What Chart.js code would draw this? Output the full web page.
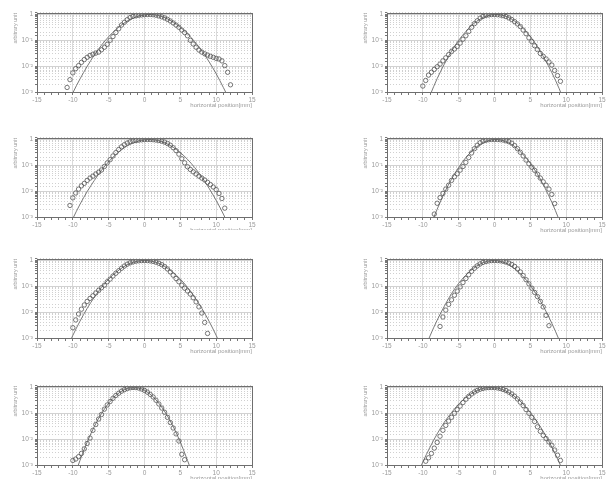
<!DOCTYPE html>
<html>
<head>
<meta charset="utf-8">
<script src="https://cdn.jsdelivr.net/npm/chart.js@4.4.0/dist/chart.umd.min.js"></script>
<style>
  html, body { margin: 0; padding: 0; background: #fff; overflow: hidden; width: 609px; height: 479px; }
  .panel { position: absolute; overflow: hidden; }
  canvas { display: block; }
</style>
</head>
<body>
<script>
// sample positions of the measured profiles [mm]
const POS = [
  -11.2, -10.8, -10.4, -10.0, -9.6, -9.2, -8.8, -8.4, -8.0, -7.6,
  -7.2, -6.8, -6.4, -6.0, -5.6, -5.2, -4.8, -4.4, -4.0, -3.6,
  -3.2, -2.8, -2.4, -2.0, -1.6, -1.2, -0.8, -0.4, 0.0, 0.4,
  0.8, 1.2, 1.6, 2.0, 2.4, 2.8, 3.2, 3.6, 4.0, 4.4,
  4.8, 5.2, 5.6, 6.0, 6.4, 6.8, 7.2, 7.6, 8.0, 8.4,
  8.8, 9.2, 9.6, 10.0, 10.4, 10.8, 11.2, 11.6, 12.0
];
// positions where the fitted curve was read [mm]
const FIT_POS = [-12, -11, -10, -9, -8, -7, -6, -5, -4, -3, -2, -1, 0,
  1, 2, 3, 4, 5, 6, 7, 8, 9, 10, 11, 12, 13];

const X_LABELS = [-15, -10, -5, 0, 5, 10, 15];
const Y_DECADES = [1, 0.1, 0.01, 0.001];
const Y_LABELS = ['1', '10\u207B\u00B9', '10\u207B\u00B2', '10\u207B\u00B3'];
const X_TITLE = 'horizontal position[mm]';
const Y_TITLE = 'arbitrary unit';

// measured profiles (null = no point)
const prof1 = [
  null, 0.0015, 0.003, 0.0055, 0.008, 0.0105, 0.014, 0.018, 0.022, 0.026,
  0.029, 0.032, 0.035, 0.043, 0.054, 0.07, 0.1, 0.14, 0.2, 0.28,
  0.39, 0.5, 0.63, 0.76, 0.84, 0.89, 0.93, 0.96, 0.98, 1.0,
  1.0, 0.98, 0.94, 0.88, 0.81, 0.74, 0.65, 0.56, 0.47, 0.39,
  0.32, 0.25, 0.2, 0.15, 0.1, 0.072, 0.054, 0.042, 0.035, 0.03,
  0.027, 0.024, 0.022, 0.02, 0.019, 0.016, 0.0105, 0.0058, 0.0019
];
const prof2 = [
  null, null, null, 0.0017, 0.0028, 0.0045, 0.0058, 0.0075, 0.0095, 0.012,
  0.016, 0.021, 0.028, 0.037, 0.046, 0.058, 0.078, 0.11, 0.15, 0.22,
  0.32, 0.44, 0.57, 0.72, 0.84, 0.92, 0.96, 0.99, 1.0, 0.98,
  0.95, 0.9, 0.83, 0.74, 0.64, 0.53, 0.43, 0.34, 0.25, 0.18,
  0.125, 0.09, 0.062, 0.044, 0.031, 0.024, 0.019, 0.0145, 0.011, 0.0068,
  0.0043, 0.0026, null, null, null, null, null, null, null
];
const prof3 = [
  null, null, 0.0028, 0.0055, 0.0085, 0.012, 0.016, 0.02, 0.026, 0.032,
  0.038, 0.046, 0.054, 0.066, 0.09, 0.123, 0.165, 0.23, 0.31, 0.41,
  0.52, 0.63, 0.73, 0.81, 0.87, 0.91, 0.94, 0.97, 0.99, 1.0,
  1.0, 0.98, 0.95, 0.91, 0.86, 0.79, 0.7, 0.6, 0.48, 0.37,
  0.27, 0.18, 0.125, 0.088, 0.069, 0.056, 0.046, 0.038, 0.032, 0.027,
  0.022, 0.018, 0.0145, 0.0115, 0.0082, 0.0052, 0.0022, null, null
];
const prof4 = [
  null, null, null, null, null, null, null, 0.0013, 0.0034, 0.0056,
  0.0082, 0.012, 0.017, 0.026, 0.036, 0.047, 0.065, 0.09, 0.13, 0.2,
  0.3, 0.44, 0.6, 0.75, 0.86, 0.93, 0.98, 1.0, 1.0, 1.0,
  0.98, 0.95, 0.89, 0.82, 0.72, 0.58, 0.44, 0.32, 0.23, 0.16,
  0.115, 0.085, 0.064, 0.045, 0.032, 0.023, 0.017, 0.012, 0.0075, 0.0033,
  null, null, null, null, null, null, null, null, null
];
const prof5 = [
  null, null, null, 0.0025, 0.005, 0.0085, 0.013, 0.019, 0.026, 0.034,
  0.043, 0.055, 0.07, 0.088, 0.11, 0.15, 0.19, 0.25, 0.32, 0.4,
  0.5, 0.61, 0.72, 0.81, 0.88, 0.94, 0.97, 0.99, 1.0, 0.99,
  0.96, 0.92, 0.86, 0.78, 0.69, 0.58, 0.47, 0.36, 0.27, 0.2,
  0.15, 0.11, 0.085, 0.066, 0.05, 0.036, 0.025, 0.016, 0.0092, 0.004,
  0.0015, null, null, null, null, null, null, null, null
];
const prof6 = [
  null, null, null, null, null, null, null, null, null, 0.0028,
  0.0065, 0.012, 0.02, 0.03, 0.045, 0.065, 0.095, 0.14, 0.2, 0.28,
  0.38, 0.5, 0.62, 0.74, 0.84, 0.91, 0.96, 0.99, 1.0, 0.99,
  0.97, 0.93, 0.87, 0.79, 0.7, 0.59, 0.47, 0.36, 0.26, 0.18,
  0.125, 0.085, 0.058, 0.04, 0.026, 0.016, 0.0075, 0.003, null, null,
  null, null, null, null, null, null, null, null, null
];
const prof7 = [
  null, null, null, 0.0015, 0.0017, 0.0021, 0.0028, 0.0042, 0.0068, 0.011,
  0.022, 0.037, 0.06, 0.09, 0.145, 0.21, 0.285, 0.38, 0.49, 0.6,
  0.72, 0.82, 0.91, 0.97, 1.0, 0.99, 0.95, 0.87, 0.77, 0.66,
  0.54, 0.43, 0.32, 0.23, 0.16, 0.11, 0.07, 0.044, 0.027, 0.016,
  0.0085, 0.0026, 0.0016, null, null, null, null, null, null, null,
  null, null, null, null, null, null, null, null, null
];
const prof8 = [
  null, null, null, null, 0.0014, 0.0019, 0.0028, 0.0045, 0.0075, 0.013,
  0.022, 0.034, 0.05, 0.07, 0.1, 0.14, 0.19, 0.26, 0.35, 0.45,
  0.56, 0.67, 0.77, 0.86, 0.92, 0.97, 0.99, 1.0, 0.99, 0.96,
  0.91, 0.84, 0.76, 0.66, 0.56, 0.46, 0.36, 0.27, 0.2, 0.14,
  0.1, 0.07, 0.048, 0.03, 0.02, 0.014, 0.0105, 0.0078, 0.0058, 0.0038,
  0.0024, 0.0015, null, null, null, null, null, null, null
];

// fitted curves, read at FIT_POS
const fit1 = [5.4e-5, 2.4e-4, 9.3e-4, 3.2e-3, 9.8e-3, 0.027, 0.065, 0.138, 0.26, 0.43, 0.64, 0.84, 0.97,
  0.995, 0.9, 0.72, 0.51, 0.32, 0.18, 0.089, 0.039, 0.015, 5.1e-3, 1.5e-3, 4.1e-4, 9.8e-5];
const fit2 = [null, 2.3e-5, 1.4e-4, 7.4e-4, 3.3e-3, 0.012, 0.038, 0.1, 0.22, 0.42, 0.66, 0.885, 1.0,
  0.947, 0.76, 0.51, 0.29, 0.14, 0.057, 0.019, 5.6e-3, 1.4e-3, 2.8e-4, 4.8e-5, null, null];
const fit3 = [4.8e-5, 2.2e-4, 8.7e-4, 3.1e-3, 9.6e-3, 0.026, 0.064, 0.138, 0.26, 0.44, 0.65, 0.845, 0.975,
  0.99, 0.89, 0.71, 0.5, 0.31, 0.17, 0.082, 0.035, 0.013, 4.4e-3, 1.3e-3, 3.3e-4, 7.6e-5];
const fit4 = [null, 1e-5, 6.9e-5, 4.1e-4, 2.0e-3, 8.5e-3, 0.029, 0.083, 0.2, 0.39, 0.64, 0.875, 0.998,
  0.94, 0.74, 0.49, 0.26, 0.12, 0.045, 0.014, 3.7e-3, 8e-4, 1.4e-4, 2.2e-5, null, null];
const fit5 = [6.6e-5, 3.1e-4, 1.26e-3, 4.5e-3, 0.014, 0.038, 0.091, 0.19, 0.34, 0.55, 0.77, 0.935, 1.0,
  0.935, 0.77, 0.55, 0.34, 0.19, 0.091, 0.038, 0.014, 4.5e-3, 1.26e-3, 3.1e-4, 6.6e-5, 1.3e-5];
const fit6 = [null, 4e-5, 2.4e-4, 1.2e-3, 4.9e-3, 0.017, 0.052, 0.13, 0.27, 0.49, 0.73, 0.93, 1.0,
  0.9, 0.69, 0.44, 0.24, 0.11, 0.042, 0.0136, 3.7e-3, 8.7e-4, 1.7e-4, 2.8e-5, null, null];
const fit7 = [null, 3.1e-5, 2.5e-4, 1.5e-3, 7.7e-3, 0.031, 0.098, 0.245, 0.49, 0.77, 0.97, 0.97, 0.77,
  0.49, 0.245, 0.098, 0.031, 7.7e-3, 1.5e-3, 2.5e-4, 3.1e-5, null, null, null, null, null];
const fit8 = [5.9e-5, 3e-4, 1.3e-3, 4.9e-3, 0.016, 0.045, 0.107, 0.225, 0.41, 0.63, 0.85, 0.98, 0.98,
  0.85, 0.63, 0.41, 0.225, 0.107, 0.045, 0.016, 4.9e-3, 1.3e-3, 3e-4, 5.9e-5, 1e-5, null];

const PROFILES = [prof1, prof2, prof3, prof4, prof5, prof6, prof7, prof8];
const FITS = [fit1, fit2, fit3, fit4, fit5, fit6, fit7, fit8];

// page layout
const COL_LEFT = [0, 350];          // canvas left for each column
const ROW_TOP = [11, 136, 257, 384]; // top of the plot box in each row
const CV_W = 258, CV_H = 111;
const CLIP_H = [null, null, 98, null, null, null, null, null]; // panel 3 is cut off in the original

const FONT = "'Liberation Sans', Arial, sans-serif";
const GREY_TXT = '#9a9a9a';

function pts(xs, ys) {
  const out = [];
  xs.forEach((x, i) => { if (ys[i] !== null) out.push({ x: x, y: ys[i] }); });
  return out;
}

// decade lines and the box round the plot
const frame = {
  id: 'frame',
  beforeDatasetsDraw(chart) {
    const { ctx, chartArea: a, scales: { y } } = chart;
    ctx.save();
    ctx.strokeStyle = '#d2d2d2';
    ctx.lineWidth = 1;
    Y_DECADES.forEach(v => {
      const py = Math.round(y.getPixelForValue(v)) + 0.5;
      ctx.beginPath(); ctx.moveTo(a.left, py); ctx.lineTo(a.right, py); ctx.stroke();
    });
    ctx.restore();
  },
  afterDraw(chart) {
    const { ctx, chartArea: a } = chart;
    ctx.save();
    ctx.strokeStyle = '#6e6e6e';
    ctx.lineWidth = 1;
    ctx.strokeRect(Math.round(a.left) + 0.5, Math.round(a.top) + 0.5,
      Math.round(a.right - a.left), Math.round(a.bottom - a.top));
    ctx.restore();
  }
};

PROFILES.forEach((prof, i) => {
  const col = i % 2, row = Math.floor(i / 2);
  const wrap = document.createElement('div');
  wrap.className = 'panel';
  wrap.style.left = COL_LEFT[col] + 'px';
  wrap.style.top = (ROW_TOP[row] - 4) + 'px';
  wrap.style.width = CV_W + 'px';
  wrap.style.height = (CLIP_H[i] || CV_H) + 'px';
  const cv = document.createElement('canvas');
  cv.width = CV_W; cv.height = CV_H;
  wrap.appendChild(cv);
  document.body.appendChild(wrap);

  new Chart(cv.getContext('2d'), {
    type: 'scatter',
    data: {
      datasets: [
        {
          type: 'line',
          data: pts(FIT_POS, FITS[i]),
          borderColor: '#6a6a6a',
          borderWidth: 0.9,
          pointRadius: 0,
          fill: false,
          cubicInterpolationMode: 'monotone',
          order: 2
        },
        {
          data: pts(POS, prof),
          pointStyle: 'circle',
          pointRadius: 2.2,
          borderWidth: 0.8,
          borderColor: '#555',
          backgroundColor: 'rgba(0,0,0,0)',
          order: 1
        }
      ]
    },
    options: {
      responsive: false,
      animation: false,
      devicePixelRatio: 1,
      events: [],
      layout: { padding: { top: 4, right: 6, left: 0, bottom: 0 } },
      plugins: { legend: { display: false }, tooltip: { enabled: false } },
      scales: {
        x: {
          type: 'linear', min: -15, max: 15,
          afterFit: s => { s.height = 26; },
          border: { display: false },
          grid: {
            color: c => X_LABELS.includes(c.tick.value) ? '#dadada' : 'rgba(0,0,0,0)',
            tickColor: '#777', tickLength: 3, lineWidth: 1
          },
          ticks: {
            stepSize: 1, autoSkip: false, maxRotation: 0, padding: 1,
            color: GREY_TXT, font: { family: FONT, size: 6.5 },
            callback: v => X_LABELS.includes(v) ? String(v) : ''
          },
          title: {
            display: true, text: X_TITLE, align: 'end', color: GREY_TXT,
            font: { family: FONT, size: 6 }, padding: { top: 0, bottom: 9 }
          }
        },
        y: {
          type: 'logarithmic', min: 0.001, max: 1.15,
          afterFit: s => { s.width = 37; },
          border: { display: false, dash: [1, 2] },
          grid: { color: '#d0d0d0', tickColor: '#777', tickLength: 2, lineWidth: 1 },
          ticks: {
            autoSkip: false, padding: 2, color: GREY_TXT, font: { family: FONT, size: 6.5 },
            callback: v => {
              const k = Y_DECADES.findIndex(d => Math.abs(v / d - 1) < 1e-6);
              return k < 0 ? '' : Y_LABELS[k];
            }
          },
          title: {
            display: true, text: Y_TITLE, align: 'end', color: GREY_TXT,
            font: { family: FONT, size: 5.5 }, padding: { top: 12, bottom: 0 }
          }
        }
      }
    },
    plugins: [frame]
  });
});
</script>
</body>
</html>
